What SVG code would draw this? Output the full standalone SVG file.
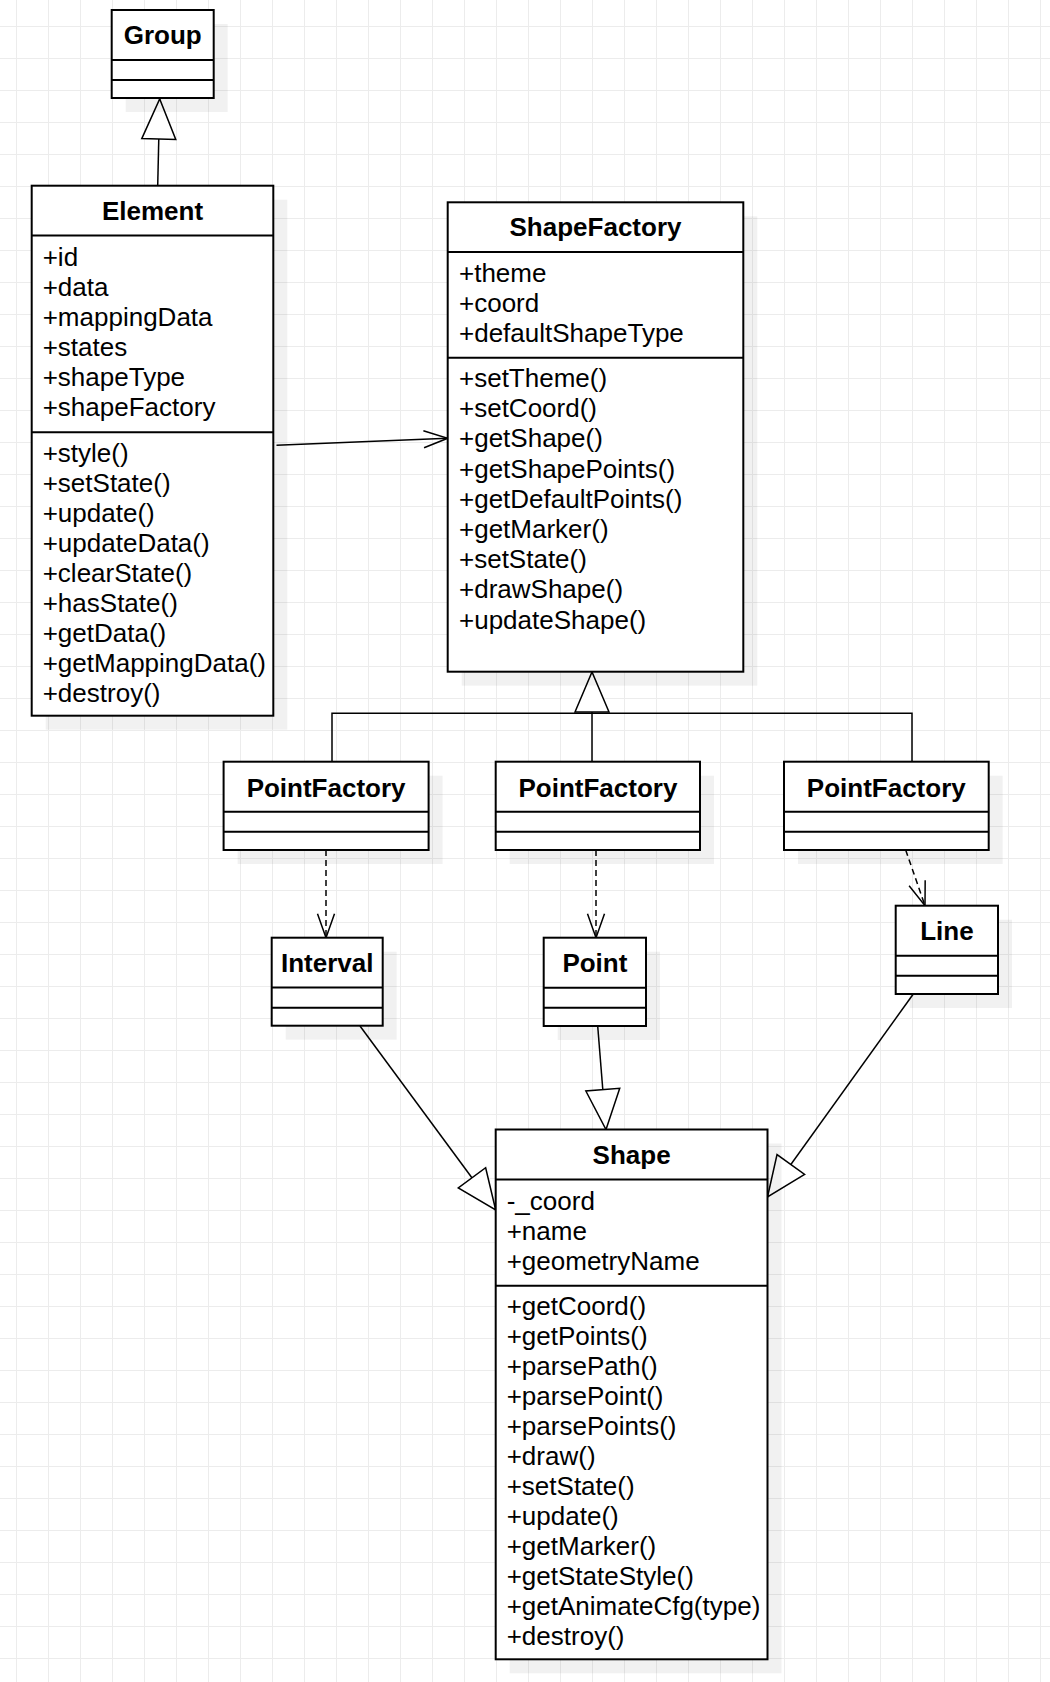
<svg xmlns="http://www.w3.org/2000/svg" width="1050" height="1682" viewBox="0 0 1050 1682">
<style>
.box{fill:#fff;stroke:#000;stroke-width:2}
.sep{stroke:#000;stroke-width:2;fill:none}
.sh{fill:#000;fill-opacity:0.055}
.t{font-family:"Liberation Sans",Arial,Helvetica,sans-serif;font-size:26px;fill:#000}
.h{font-weight:bold;text-anchor:middle}
.c{fill:none;stroke:#000;stroke-width:1.5}
.d{stroke-dasharray:6 4}
</style>
<defs>
<pattern id="grid" x="16" y="26" width="32" height="32" patternUnits="userSpaceOnUse">
<path d="M0.5,0 V32 M0,0.5 H32" stroke="#ececec" stroke-width="1" fill="none"/>
</pattern>
<marker id="inh" markerUnits="userSpaceOnUse" markerWidth="46" markerHeight="40" viewBox="-3 -20 46 40" refX="40" refY="0" orient="auto" overflow="visible">
<path d="M0,-17 L40,0 L0,17 Z" fill="#fff" stroke="#000" stroke-width="1.5"/>
</marker>
<marker id="opn" markerUnits="userSpaceOnUse" markerWidth="30" markerHeight="22" viewBox="-2 -11 30 22" refX="24" refY="0" orient="auto" overflow="visible">
<path d="M0,-8.5 L24,0 L0,8.5" fill="none" stroke="#000" stroke-width="1.5"/>
</marker>
</defs>
<rect width="1050" height="1682" fill="#fff"/>
<rect width="1050" height="1682" fill="url(#grid)"/>

<g id="connectors">
<path class="c" d="M157.7,185.7 L159.7,99" marker-end="url(#inh)"/>
<path class="c" d="M276.5,445.2 L447.7,438.3" marker-end="url(#opn)"/>
<path class="c" d="M332,761.7 V713.3 H912 V761.7"/>
<path class="c" d="M592,761.7 V672" marker-end="url(#inh)"/>
<path class="c d" d="M326,850 V937.7" marker-end="url(#opn)"/>
<path class="c d" d="M596,850 V937.7" marker-end="url(#opn)"/>
<path class="c d" d="M905.7,850 L925,905.7" marker-end="url(#opn)"/>
<path class="c" d="M360,1026 L495.7,1210" marker-end="url(#inh)"/>
<path class="c" d="M597.7,1026 L606,1129.5" marker-end="url(#inh)"/>
<path class="c" d="M913.3,994 L767.5,1197" marker-end="url(#inh)"/>
</g>

<g id="group">
<rect class="sh" x="125.7" y="24" width="102" height="88"/>
<rect class="box" x="111.7" y="10" width="102" height="88"/>
<path class="sep" d="M111.7,60 H213.7 M111.7,80 H213.7"/>
<text class="t h" x="162.7" y="43.8">Group</text>
</g>

<g id="element">
<rect class="sh" x="45.7" y="199.7" width="241.6" height="530"/>
<rect class="box" x="31.7" y="185.7" width="241.6" height="530"/>
<path class="sep" d="M31.7,235.5 H273.3 M31.7,432.2 H273.3"/>
<text class="t h" x="152.5" y="220.3">Element</text>
<text class="t" x="42.7" y="265.8">+id</text>
<text class="t" x="42.7" y="295.8">+data</text>
<text class="t" x="42.7" y="325.8">+mappingData</text>
<text class="t" x="42.7" y="355.8">+states</text>
<text class="t" x="42.7" y="385.8">+shapeType</text>
<text class="t" x="42.7" y="415.8">+shapeFactory</text>
<text class="t" x="42.7" y="462">+style()</text>
<text class="t" x="42.7" y="492">+setState()</text>
<text class="t" x="42.7" y="522">+update()</text>
<text class="t" x="42.7" y="552">+updateData()</text>
<text class="t" x="42.7" y="582">+clearState()</text>
<text class="t" x="42.7" y="612">+hasState()</text>
<text class="t" x="42.7" y="642">+getData()</text>
<text class="t" x="42.7" y="672">+getMappingData()</text>
<text class="t" x="42.7" y="702">+destroy()</text>
</g>

<g id="shapefactory">
<rect class="sh" x="461.7" y="216.3" width="295.6" height="469.4"/>
<rect class="box" x="447.7" y="202.3" width="295.6" height="469.4"/>
<path class="sep" d="M447.7,252 H743.3 M447.7,357.7 H743.3"/>
<text class="t h" x="595.5" y="236">ShapeFactory</text>
<text class="t" x="459" y="282">+theme</text>
<text class="t" x="459" y="312">+coord</text>
<text class="t" x="459" y="342">+defaultShapeType</text>
<text class="t" x="459" y="387">+setTheme()</text>
<text class="t" x="459" y="417.2">+setCoord()</text>
<text class="t" x="459" y="447.4">+getShape()</text>
<text class="t" x="459" y="477.6">+getShapePoints()</text>
<text class="t" x="459" y="507.8">+getDefaultPoints()</text>
<text class="t" x="459" y="538">+getMarker()</text>
<text class="t" x="459" y="568.2">+setState()</text>
<text class="t" x="459" y="598.4">+drawShape()</text>
<text class="t" x="459" y="628.6">+updateShape()</text>
</g>

<g id="pointfactory1">
<rect class="sh" x="237.6" y="775.7" width="205" height="88.3"/>
<rect class="box" x="223.6" y="761.7" width="205" height="88.3"/>
<path class="sep" d="M223.6,811.7 H428.6 M223.6,831.7 H428.6"/>
<text class="t h" x="326.1" y="796.7">PointFactory</text>
</g>

<g id="pointfactory2">
<rect class="sh" x="509.7" y="775.7" width="204.3" height="88.3"/>
<rect class="box" x="495.7" y="761.7" width="204.3" height="88.3"/>
<path class="sep" d="M495.7,811.7 H700 M495.7,831.7 H700"/>
<text class="t h" x="597.9" y="796.7">PointFactory</text>
</g>

<g id="pointfactory3">
<rect class="sh" x="798" y="775.7" width="204.7" height="88.3"/>
<rect class="box" x="784" y="761.7" width="204.7" height="88.3"/>
<path class="sep" d="M784,811.7 H988.7 M784,831.7 H988.7"/>
<text class="t h" x="886.3" y="796.7">PointFactory</text>
</g>

<g id="interval">
<rect class="sh" x="285.7" y="951.7" width="111" height="88"/>
<rect class="box" x="271.7" y="937.7" width="111" height="88"/>
<path class="sep" d="M271.7,987.5 H382.7 M271.7,1007.7 H382.7"/>
<text class="t h" x="327.2" y="971.9">Interval</text>
</g>

<g id="point">
<rect class="sh" x="557.7" y="951.7" width="102.3" height="88.3"/>
<rect class="box" x="543.7" y="937.7" width="102.3" height="88.3"/>
<path class="sep" d="M543.7,987.7 H646 M543.7,1007.7 H646"/>
<text class="t h" x="594.9" y="971.9">Point</text>
</g>

<g id="line">
<rect class="sh" x="909.7" y="919.7" width="102.3" height="88.3"/>
<rect class="box" x="895.7" y="905.7" width="102.3" height="88.3"/>
<path class="sep" d="M895.7,955.8 H998 M895.7,975.7 H998"/>
<text class="t h" x="946.9" y="940.2">Line</text>
</g>

<g id="shape">
<rect class="sh" x="509.7" y="1143.5" width="271.8" height="529.8"/>
<rect class="box" x="495.7" y="1129.5" width="271.8" height="529.8"/>
<path class="sep" d="M495.7,1179.5 H767.5 M495.7,1285.7 H767.5"/>
<text class="t h" x="631.6" y="1163.8">Shape</text>
<text class="t" x="506.7" y="1210">-_coord</text>
<text class="t" x="506.7" y="1240">+name</text>
<text class="t" x="506.7" y="1270">+geometryName</text>
<text class="t" x="506.7" y="1315">+getCoord()</text>
<text class="t" x="506.7" y="1345">+getPoints()</text>
<text class="t" x="506.7" y="1375">+parsePath()</text>
<text class="t" x="506.7" y="1405">+parsePoint()</text>
<text class="t" x="506.7" y="1435">+parsePoints()</text>
<text class="t" x="506.7" y="1465">+draw()</text>
<text class="t" x="506.7" y="1495">+setState()</text>
<text class="t" x="506.7" y="1525">+update()</text>
<text class="t" x="506.7" y="1555">+getMarker()</text>
<text class="t" x="506.7" y="1585">+getStateStyle()</text>
<text class="t" x="506.7" y="1615">+getAnimateCfg(type)</text>
<text class="t" x="506.7" y="1645">+destroy()</text>
</g>
</svg>
